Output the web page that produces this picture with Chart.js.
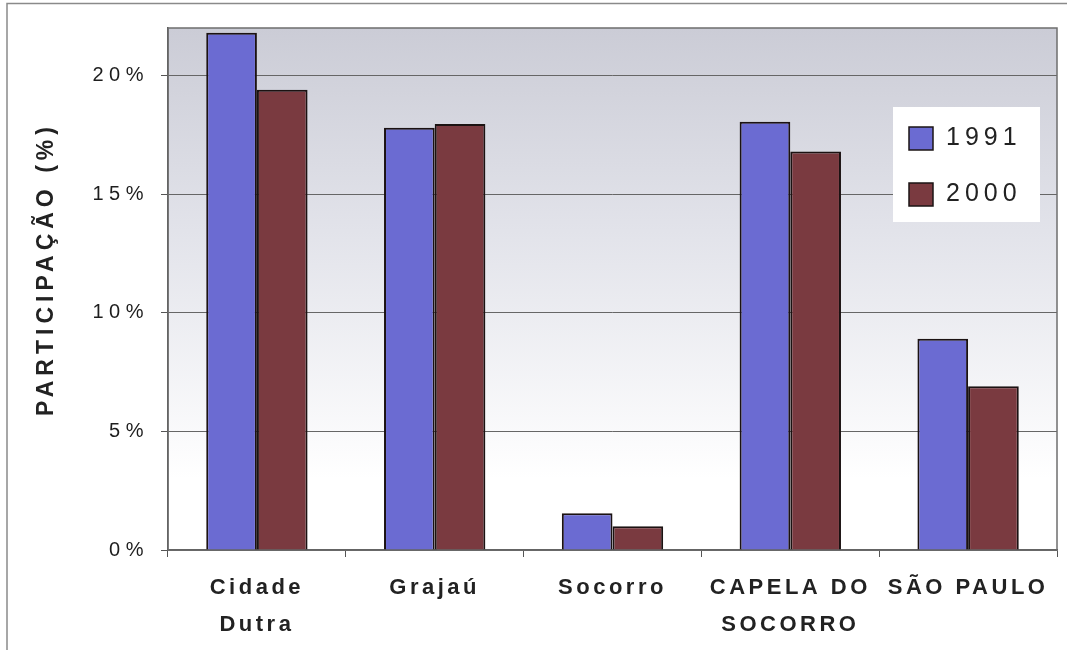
<!DOCTYPE html>
<html>
<head>
<meta charset="utf-8">
<script src="https://cdn.jsdelivr.net/npm/chart.js@4.4.1/dist/chart.umd.min.js"></script>
<style>
  html, body { margin: 0; padding: 0; background: #ffffff; }
  canvas { display: block; }
</style>
</head>
<body>
<canvas id="chart" width="1075" height="652"></canvas>
<script>
// Participação por distrito, 1991 e 2000
const categories = [["Cidade", "Dutra"], "Grajaú", "Socorro", ["CAPELA DO", "SOCORRO"], "SÃO PAULO"];
const seriesNames = ["1991", "2000"];
const values1991 = [21.8, 17.8, 1.55, 18.05, 8.9];
const values2000 = [19.4, 17.95, 1.0, 16.8, 6.9];
const yTicks = [0, 5, 10, 15, 20];
const yMax = 22;
const yTitle = "PARTICIPAÇÃO (%)";

const seriesColors = ["#6b6bd2", "#7a3a40"];
const FONT = '"Liberation Sans", Arial, sans-serif';

// Draw a scale's tick labels with the given letter spacing
function spacedLabels(spacing) {
  return function (scale) {
    if (scale._spacedLabels) return;
    const draw = scale.drawLabels.bind(scale);
    scale.drawLabels = function (area) {
      const ctx = scale.ctx;
      ctx.save();
      ctx.letterSpacing = spacing;
      draw(area);
      ctx.restore();
    };
    scale._spacedLabels = true;
  };
}

// Outer frame and the shaded plot background
const backgroundPlugin = {
  id: 'background',
  beforeDraw(chart) {
    const { ctx, chartArea: a } = chart;
    ctx.save();
    ctx.fillStyle = '#ffffff';
    ctx.fillRect(0, 0, chart.width, chart.height);
    const fadeEnd = chart.scales.y.getPixelForValue(3);
    const g = ctx.createLinearGradient(0, a.top, 0, fadeEnd);
    g.addColorStop(0, '#cbccd6');
    g.addColorStop(0.45, '#e2e3ea');
    g.addColorStop(1, '#ffffff');
    ctx.fillStyle = g;
    ctx.fillRect(a.left, a.top, a.right - a.left, a.bottom - a.top);
    ctx.strokeStyle = '#8a8a8a';
    ctx.lineWidth = 1.5;
    ctx.beginPath();
    ctx.moveTo(7, 650);
    ctx.lineTo(7, 3.5);
    ctx.lineTo(1067, 3.5);
    ctx.stroke();
    ctx.restore();
  },
  beforeDatasetsDraw(chart) {
    const { ctx, chartArea: a } = chart;
    ctx.save();
    ctx.strokeStyle = '#6e6e6e';
    ctx.lineWidth = 1.5;
    ctx.strokeRect(a.left, a.top, a.right - a.left, a.bottom - a.top);
    ctx.restore();
  }
};

// Vertical axis title and the boxed legend
const labelsPlugin = {
  id: 'labels',
  afterDraw(chart) {
    const { ctx } = chart;
    ctx.save();
    ctx.letterSpacing = '5px';
    ctx.fillStyle = '#222222';
    ctx.font = 'bold 23px ' + FONT;
    ctx.textAlign = 'center';
    ctx.textBaseline = 'middle';
    ctx.translate(47, 269);
    ctx.rotate(-Math.PI / 2);
    ctx.fillText(yTitle, 0, 0);
    ctx.restore();

    ctx.save();
    ctx.letterSpacing = '5px';
    ctx.fillStyle = '#ffffff';
    ctx.fillRect(893, 107, 147, 115);
    chart.data.datasets.forEach((ds, i) => {
      const y = 127 + i * 56;
      ctx.fillStyle = ds.backgroundColor;
      ctx.fillRect(909, y, 24, 23);
      ctx.strokeStyle = '#1b1414';
      ctx.lineWidth = 1.5;
      ctx.strokeRect(909, y, 24, 23);
      ctx.fillStyle = '#222222';
      ctx.font = '25px ' + FONT;
      ctx.textAlign = 'left';
      ctx.textBaseline = 'middle';
      ctx.fillText(ds.label, 946, y + 11);
    });
    ctx.restore();
  }
};

new Chart(document.getElementById('chart'), {
  type: 'bar',
  data: {
    labels: categories,
    datasets: [
      { label: seriesNames[0], data: values1991, backgroundColor: seriesColors[0] },
      { label: seriesNames[1], data: values2000, backgroundColor: seriesColors[1] }
    ]
  },
  plugins: [backgroundPlugin, labelsPlugin],
  options: {
    responsive: false,
    animation: false,
    devicePixelRatio: 1,
    layout: { padding: { top: 28, right: 18, left: 0, bottom: 0 } },
    datasets: {
      bar: {
        categoryPercentage: 0.57,
        barPercentage: 1.0,
        borderColor: '#1b1212',
        borderWidth: 2,
        borderSkipped: 'bottom'
      }
    },
    plugins: {
      legend: { display: false },
      tooltip: { enabled: false }
    },
    scales: {
      x: {
        grid: {
          offset: true,
          drawOnChartArea: false,
          drawTicks: true,
          tickLength: 7,
          tickColor: '#555555',
          tickWidth: 1
        },
        border: { display: true, color: '#4a4a4a', width: 1.5 },
        ticks: {
          color: '#222222',
          font: { family: FONT, size: 22, weight: 'bold', lineHeight: 1.68 },
          padding: 12,
          maxRotation: 0,
          autoSkip: false
        },
        afterUpdate: spacedLabels('3.5px'),
        afterFit(scale) { scale.height = 102; }
      },
      y: {
        min: 0,
        max: yMax,
        afterBuildTicks(scale) { scale.ticks = yTicks.map(v => ({ value: v })); },
        ticks: {
          includeBounds: false,
          color: '#1e1e1e',
          font: { family: FONT, size: 20 },
          padding: 12,
          callback: v => v + '%'
        },
        grid: {
          color: '#666666',
          lineWidth: 1,
          tickLength: 7,
          tickColor: '#555555'
        },
        border: { display: true, color: '#4a4a4a', width: 1.5 },
        afterUpdate: spacedLabels('5.5px'),
        afterFit(scale) { scale.width = 168; }
      }
    }
  }
});
</script>
</body>
</html>
